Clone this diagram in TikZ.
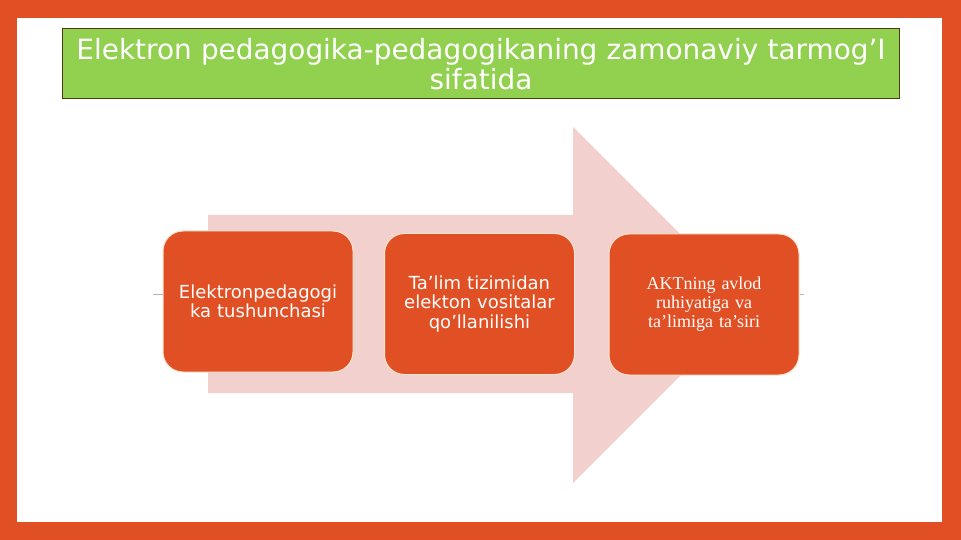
\documentclass[tikz,border=0pt]{standalone}
\usepackage{fontspec}
\setmainfont{DejaVu Sans}
\newfontfamily\boxserif{Liberation Serif}

\definecolor{frameorange}{HTML}{E05024}
\definecolor{titlegreen}{HTML}{92D050}
\definecolor{titleedge}{HTML}{4A3A10}
\definecolor{arrowpink}{HTML}{F2D0CE}
\definecolor{boxedge}{HTML}{FDE5CF}

\tikzset{
  stepbox/.style={draw=boxedge, fill=frameorange, line width=1pt,
    rounded corners=20pt, minimum width=190pt, minimum height=141pt,
    text width=178pt, align=center, text=white,
    font=\fontsize{18}{19.5}\selectfont},
  tick/.style={gray!60, line width=1pt}
}

\begin{document}
\begin{tikzpicture}[x=1pt, y=-1pt]
   % frame
   \fill[frameorange] (0,0) rectangle (961,540);
   \fill[white] (17,18) rectangle (942,522);

   \node[draw=titleedge, fill=titlegreen, line width=1pt, minimum width=836pt,
     minimum height=70pt, text width=830pt, align=center, text=white,
     font=\fontsize{27.9}{30.5}\selectfont] (title) at (481,64)
     {Elektron pedagogika-pedagogikaning zamonaviy tarmog’I\\sifatida};

   % big arrow behind the steps
   \fill[arrowpink] (208,215) -- (573,215) -- (573,127) -- (751,305)
   -- (573,483) -- (573,393) -- (208,393) -- cycle;

   \node[stepbox] (b1) at (258,301.5) {Elektronpedagogi\\ka tushunchasi};
   \node[stepbox] (b2) at (479.5,304) {Ta’lim tizimidan\\elekton vositalar\\qo’llanilishi};
   \node[stepbox, font=\boxserif\fontsize{18}{19}\selectfont] (b3) at (704,304.5)
     {AKTning avlod\\ruhiyatiga va\\ta’limiga ta’siri};

   \coordinate (lt) at (153,294);
   \coordinate (rt) at (804,294);
   \draw[tick] (lt) -- (lt -| b1.west);
   \draw[tick] (rt) -- (rt -| b3.east);

\end{tikzpicture}
\end{document}
